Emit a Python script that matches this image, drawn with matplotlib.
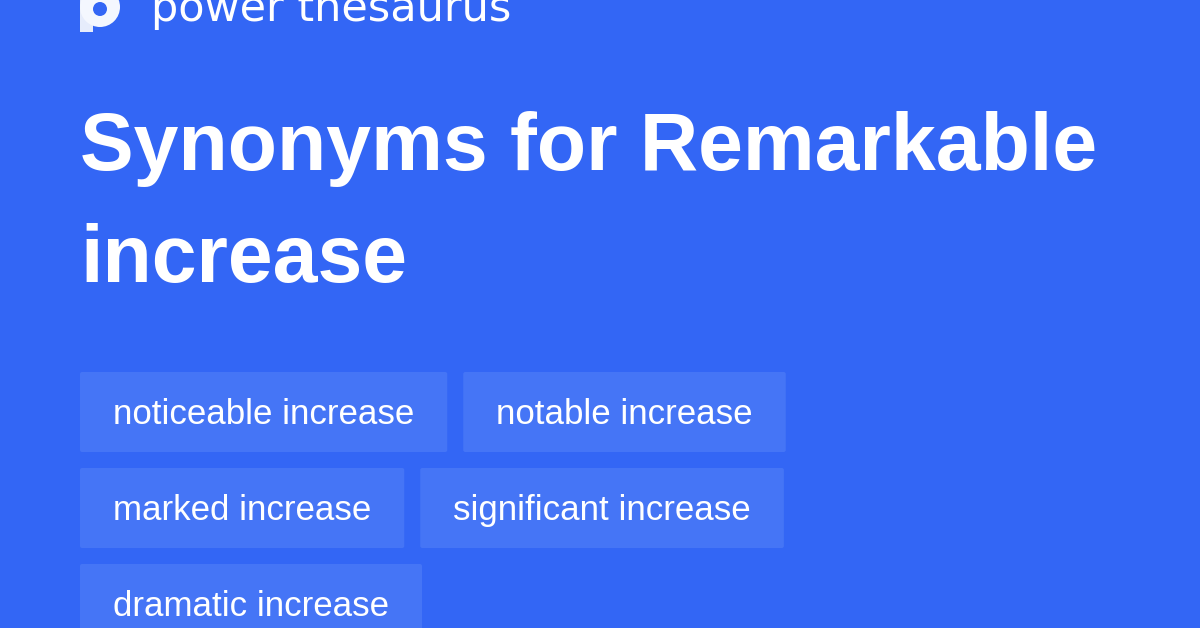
import matplotlib
matplotlib.use("Agg")
import matplotlib.pyplot as plt
from matplotlib.patches import FancyBboxPatch, Rectangle, Circle

# ---- content ----
brand = "power thesaurus"
title_lines = ["Synonyms for Remarkable", "increase"]
synonyms = ["noticeable increase", "notable increase", "marked increase",
            "significant increase", "dramatic increase"]

BG = "#3366f5"
CHIP = "#4575f6"
W, H = 1200, 628
PT = 0.72  # points per pixel at dpi=100

fig = plt.figure(figsize=(12, 6.28), dpi=100)
fig.patch.set_facecolor(BG)
ax = fig.add_axes([0, 0, 1, 1])
ax.set_xlim(0, W)
ax.set_ylim(H, 0)
ax.axis("off")
ax.set_facecolor(BG)

# ---- logo ----
ax.add_patch(Rectangle((80, -5), 12.5, 37, color="#e6ecfb", lw=0))
ax.add_patch(Circle((100, 7), 20, color="#f4f7fe", lw=0))
ax.add_patch(Circle((100, 9), 7, color=BG, lw=0))
ax.text(151, 21, brand, color="white", fontsize=43 * PT, family="DejaVu Sans",
        va="baseline", ha="left")

# ---- title ----
for i, line in enumerate(title_lines):
    ax.text(80, 170 + i * 112, line, color="white", fontsize=80.7 * PT,
            family="Liberation Sans", weight="bold", va="baseline", ha="left")

# ---- chips (flow layout) ----
fig.canvas.draw()
renderer = fig.canvas.get_renderer()
pad_x, chip_h, gap, row_gap = 33, 80, 16, 16
x0, y0, max_right = 80, 372, 1000
x, y = x0, y0
for s in synonyms:
    t = ax.text(0, 0, s, fontsize=34.9 * PT, family="Liberation Sans",
                color="white", va="baseline", ha="left")
    tw = t.get_window_extent(renderer).width
    cw = tw + 2 * pad_x
    if x > x0 and x + cw > max_right:
        x = x0
        y += chip_h + row_gap
    ax.add_patch(FancyBboxPatch((x + 2, y + 2), cw - 4, chip_h - 4,
                                boxstyle="round,pad=2", color=CHIP, lw=0,
                                zorder=1))
    t.set_position((x + pad_x, y + 52))
    t.set_zorder(2)
    x += cw + gap

fig.savefig("out.png", dpi=100, facecolor=BG)
